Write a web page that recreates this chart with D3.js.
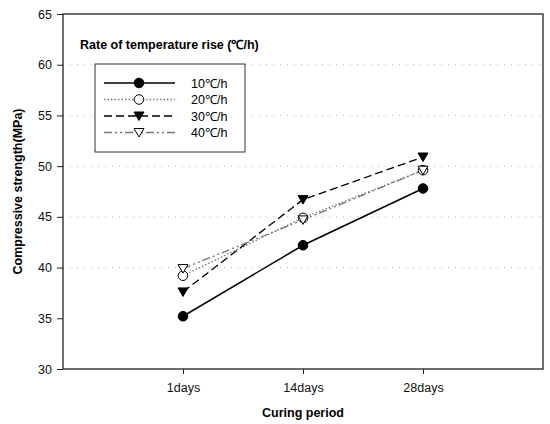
<!DOCTYPE html>
<html>
<head>
<meta charset="utf-8">
<script src="https://cdn.jsdelivr.net/npm/d3@7"></script>
<style>
  body { margin: 0; background: #fff; }
  svg { font-family: Arial, "Liberation Sans", sans-serif; }
</style>
</head>
<body>
<div id="wrapper"></div>
<script>
// data
const categories = ["1days", "14days", "28days"];
const seriesNames = ["10℃/h", "20℃/h", "30℃/h", "40℃/h"];
const rate10 = [35.2, 42.2, 47.8];
const rate20 = [39.2, 44.9, 49.6];
const rate30 = [37.6, 46.7, 50.9];
const rate40 = [39.9, 44.7, 49.6];
const yTicks = [30, 35, 40, 45, 50, 55, 60, 65];
const gridValues = [40, 45, 50, 55, 60];

const styles = [
  { dash: null, color: "#000", marker: "circle", fill: "#000" },
  { dash: "1.5,2", color: "#777", marker: "circle", fill: "#fff" },
  { dash: "8,4", color: "#000", marker: "down", fill: "#000" },
  { dash: "8,3,2,3,2,3", color: "#777", marker: "down", fill: "#fff" },
];
const series = [rate10, rate20, rate30, rate40].map((values, i) => ({
  name: seriesNames[i],
  values,
  ...styles[i],
}));

const dimensions = {
  width: 550,
  height: 424,
  margins: { top: 14, right: 7, bottom: 55, left: 63 },
};
dimensions.boundedWidth =
  dimensions.width - dimensions.margins.left - dimensions.margins.right;
dimensions.boundedHeight =
  dimensions.height - dimensions.margins.top - dimensions.margins.bottom;

const wrapper = d3
  .select("#wrapper")
  .append("svg")
  .attr("width", dimensions.width)
  .attr("height", dimensions.height);

const bounds = wrapper
  .append("g")
  .attr("transform", `translate(${dimensions.margins.left},${dimensions.margins.top})`);

// scales
const xScale = d3.scaleLinear().domain([0, 4]).range([0, dimensions.boundedWidth]);
const yScale = d3.scaleLinear().domain([30, 65]).range([dimensions.boundedHeight, 0]);

// grid
bounds
  .append("g")
  .selectAll("line")
  .data(gridValues)
  .join("line")
  .attr("x1", 0)
  .attr("x2", dimensions.boundedWidth)
  .attr("y1", (d) => yScale(d))
  .attr("y2", (d) => yScale(d))
  .attr("stroke", "#b5b5b5")
  .attr("stroke-width", 1)
  .attr("stroke-dasharray", "1,6");

// frame
bounds
  .append("rect")
  .attr("width", dimensions.boundedWidth)
  .attr("height", dimensions.boundedHeight)
  .attr("fill", "none")
  .attr("stroke", "#222")
  .attr("stroke-width", 1.3);

// axes
const xAxis = bounds
  .append("g")
  .attr("transform", `translate(0,${dimensions.boundedHeight})`)
  .call(
    d3.axisBottom(xScale)
      .tickValues([1, 2, 3])
      .tickFormat((d) => categories[d - 1])
      .tickSize(5)
      .tickPadding(9)
  );
xAxis.select(".domain").remove();

const yAxis = bounds
  .append("g")
  .call(d3.axisLeft(yScale).tickValues(yTicks).tickSize(6).tickPadding(5));
yAxis.select(".domain").remove();

[xAxis, yAxis].forEach((a) => {
  a.selectAll("text").attr("font-size", 12.5).attr("fill", "#111");
  a.selectAll(".tick line").attr("stroke", "#222");
});

// axis titles
wrapper
  .append("text")
  .attr("x", dimensions.margins.left + xScale(2))
  .attr("y", 417)
  .attr("text-anchor", "middle")
  .attr("font-size", 12.5)
  .attr("font-weight", "bold")
  .text("Curing period");

wrapper
  .append("text")
  .attr("transform", `translate(22,${dimensions.margins.top + yScale(47.5)}) rotate(-90)`)
  .attr("text-anchor", "middle")
  .attr("font-size", 12.5)
  .attr("font-weight", "bold")
  .text("Compressive strength(MPa)");

// markers
function drawMarker(g, s, x, y) {
  if (s.marker === "circle") {
    g.append("circle")
      .attr("cx", x)
      .attr("cy", y)
      .attr("r", 4.8)
      .attr("fill", s.fill)
      .attr("stroke", "#000")
      .attr("stroke-width", 1);
  } else {
    const r = 5;
    g.append("path")
      .attr("d", `M${x - r},${y - r * 0.8}L${x + r},${y - r * 0.8}L${x},${y + r * 0.9}Z`)
      .attr("fill", s.fill)
      .attr("stroke", "#000")
      .attr("stroke-width", 1);
  }
}

// lines
const lineGenerator = d3
  .line()
  .x((d, i) => xScale(i + 1))
  .y((d) => yScale(d));

series.forEach((s) => {
  bounds
    .append("path")
    .attr("d", lineGenerator(s.values))
    .attr("fill", "none")
    .attr("stroke", s.color)
    .attr("stroke-width", s.dash ? 1.3 : 1.5)
    .attr("stroke-dasharray", s.dash);
});
series.forEach((s) => {
  s.values.forEach((v, i) => drawMarker(bounds, s, xScale(i + 1), yScale(v)));
});

// legend
wrapper
  .append("text")
  .attr("x", 80)
  .attr("y", 49)
  .attr("font-size", 12.5)
  .attr("font-weight", "bold")
  .text("Rate of temperature rise (℃/h)");

const legend = wrapper.append("g").attr("transform", "translate(95,64)");
legend
  .append("rect")
  .attr("width", 150)
  .attr("height", 88)
  .attr("fill", "#fff")
  .attr("stroke", "#333")
  .attr("stroke-width", 1);

series.forEach((s, i) => {
  const y = 19 + i * 16.5;
  legend
    .append("line")
    .attr("x1", 9)
    .attr("x2", 80)
    .attr("y1", y)
    .attr("y2", y)
    .attr("stroke", s.color)
    .attr("stroke-width", s.dash ? 1.3 : 1.5)
    .attr("stroke-dasharray", s.dash);
  drawMarker(legend, s, 44, y);
  legend
    .append("text")
    .attr("x", 96)
    .attr("y", y + 4.5)
    .attr("font-size", 12.5)
    .text(s.name);
});
</script>
</body>
</html>
